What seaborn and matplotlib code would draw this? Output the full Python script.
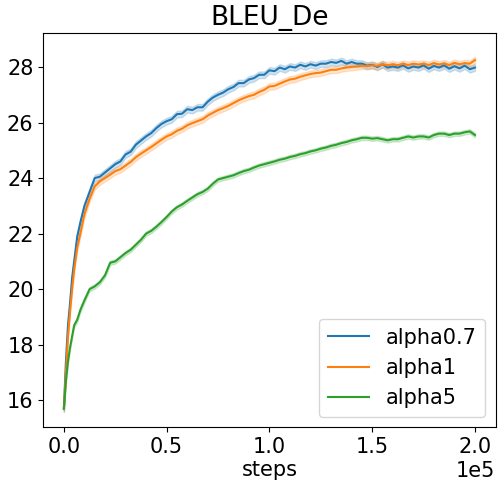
import numpy as np
import pandas as pd
import seaborn as sns
import matplotlib
matplotlib.use("Agg")
import matplotlib.pyplot as plt

steps = [0, 1000, 2000, 3000, 4000, 5000, 6500, 8000, 10000, 12500, 15000,
         17500, 20000, 22500, 25000, 27500, 30000, 32500, 35000, 37500, 40000,
         42500, 45000, 47500, 50000, 52500, 55000, 57500, 60000, 62500, 65000,
         67500, 70000, 72500, 75000, 77500, 80000, 82500, 85000, 87500, 90000,
         92500, 95000, 97500, 100000, 102500, 105000, 107500, 110000, 112500,
         115000, 117500, 120000, 122500, 125000, 127500, 130000, 132500, 135000,
         137500, 140000, 142500, 145000, 147500, 150000, 152500, 155000, 157500,
         160000, 162500, 165000, 167500, 170000, 172500, 175000, 177500, 180000,
         182500, 185000, 187500, 190000, 192500, 195000, 197500, 200000]

alpha07 = [15.7, 17.4, 18.7, 19.5, 20.4, 21.0, 21.9, 22.4, 23.0, 23.5, 24.0,
           24.05, 24.2, 24.35, 24.5, 24.6, 24.85, 24.95, 25.2, 25.35, 25.5,
           25.62, 25.8, 25.95, 26.05, 26.12, 26.3, 26.32, 26.48, 26.45, 26.55, 26.55,
           26.75, 26.9, 27.0, 27.08, 27.2, 27.28, 27.42, 27.42, 27.55, 27.6,
           27.72, 27.72, 27.88, 27.85, 27.98, 27.92, 28.02, 27.98, 28.08, 28.02, 28.1,
           28.05, 28.12, 28.12, 28.18, 28.15, 28.22, 28.12, 28.18, 28.12, 28.12, 28.05,
           28.08, 28.0, 28.1, 27.98, 28.02, 27.98, 28.06, 27.95, 28.02, 27.98,
           28.06, 27.94, 28.04, 27.98, 28.06, 27.94, 28.03, 27.95, 28.05, 27.92, 27.98]

alpha1 = [15.7, 17.0, 18.3, 19.2, 20.0, 20.7, 21.5, 22.0, 22.7, 23.25, 23.7,
          23.88, 24.0, 24.12, 24.25, 24.32, 24.45, 24.58, 24.75, 24.88, 25.0, 25.12,
          25.25, 25.38, 25.5, 25.58, 25.7, 25.78, 25.9, 25.98, 26.05, 26.12,
          26.25, 26.35, 26.45, 26.52, 26.6, 26.7, 26.8, 26.88, 26.95, 27.0, 27.1,
          27.18, 27.3, 27.32, 27.4, 27.48, 27.55, 27.58, 27.65, 27.7, 27.75,
          27.78, 27.8, 27.85, 27.9, 27.9, 27.95, 27.98, 28.0, 28.02, 28.05, 28.03,
          28.06, 28.04, 28.1, 28.06, 28.1, 28.06, 28.12, 28.07, 28.12, 28.09,
          28.12, 28.07, 28.14, 28.09, 28.13, 28.07, 28.15, 28.1, 28.14, 28.12, 28.25]

alpha5 = [15.7, 16.7, 17.4, 17.9, 18.3, 18.7, 18.9, 19.25, 19.6, 20.0, 20.1,
          20.25, 20.5, 20.95, 21.0, 21.15, 21.3, 21.42, 21.6, 21.78, 22.0, 22.1,
          22.25, 22.42, 22.6, 22.8, 22.95, 23.05, 23.18, 23.3, 23.42, 23.5, 23.62,
          23.8, 23.95, 24.0, 24.05, 24.1, 24.18, 24.25, 24.3, 24.38, 24.45, 24.5,
          24.55, 24.6, 24.66, 24.7, 24.76, 24.8, 24.86, 24.9, 24.96, 25.0, 25.06,
          25.1, 25.16, 25.2, 25.26, 25.3, 25.36, 25.4, 25.45, 25.45, 25.42, 25.44,
          25.4, 25.36, 25.4, 25.4, 25.45, 25.5, 25.46, 25.5, 25.5, 25.46,
          25.55, 25.6, 25.6, 25.55, 25.6, 25.6, 25.65, 25.68, 25.55]

series_names = ["alpha0.7", "alpha1", "alpha5"]
series_values = [alpha07, alpha1, alpha5]
band_halfwidth = [0.12, 0.12, 0.08]

rows = []
for name, vals, s in zip(series_names, series_values, band_halfwidth):
    for x, v in zip(steps, vals):
        rows.append({"steps": x, "value": v - s, "run": name})
        rows.append({"steps": x, "value": v + s, "run": name})
df = pd.DataFrame(rows)

fig = plt.figure(figsize=(4.98, 4.8), dpi=100)
ax = fig.add_axes([0.087, 0.110, 0.908, 0.821])
palette = ["#1f77b4", "#ff7f0e", "#2ca02c"]
sns.lineplot(data=df, x="steps", y="value", hue="run", hue_order=series_names,
             palette=palette, errorbar=("pi", 100), linewidth=1.5, ax=ax)
ax.ticklabel_format(style="sci", axis="x", scilimits=(0, 0))
ax.set_title("BLEU_De", fontsize=19)
ax.set_xlabel("steps", fontsize=15, labelpad=2)
ax.set_ylabel("")
ax.tick_params(labelsize=15)
ax.xaxis.get_offset_text().set_fontsize(15)
ax.set_xticks([0, 50000, 100000, 150000, 200000])
ax.set_yticks([16, 18, 20, 22, 24, 26, 28])
ax.set_xlim(-10000, 210000)
ax.set_ylim(15.03, 29.22)
leg = ax.legend(loc="lower right", fontsize=15)
fig.savefig("out.png", dpi=100)
